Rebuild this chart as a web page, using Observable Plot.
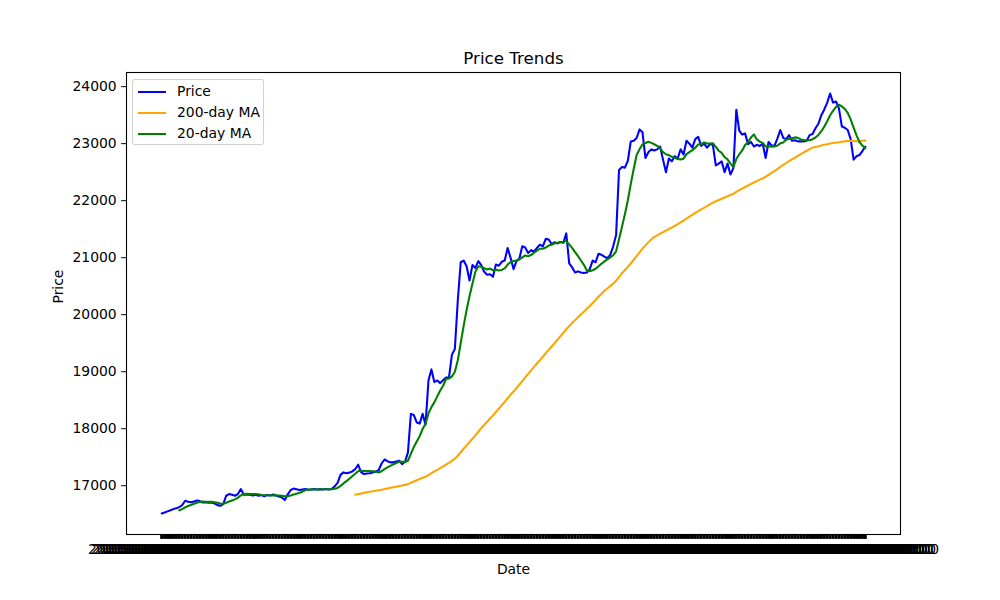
<!DOCTYPE html>
<html>
<head>
<meta charset="utf-8">
<script src="https://cdn.jsdelivr.net/npm/d3@7"></script>
<script src="https://cdn.jsdelivr.net/npm/@observablehq/plot@0.6"></script>
<style>
  body { margin: 0; background: white; font-family: "DejaVu Sans", sans-serif; }
  #wrap { position: relative; width: 1000px; height: 600px; }
  #legend { position: absolute; left: 132px; top: 79px; width: 132px; height: 66px;
    border: 1px solid rgba(204,204,204,0.9); border-radius: 3px; background: rgba(255,255,255,0.8);
    box-sizing: border-box; font-size: 13.9px; color: black; }
  .row { position: absolute; left: 0; height: 20px; }
  .sw { position: absolute; left: 5px; width: 28px; height: 2px; top: 9px; }
  .lb { position: absolute; left: 44px; top: 1px; white-space: nowrap; }
</style>
</head>
<body>
<div id="wrap"></div>
<script>
// Price, one value per sample (every 3rd trading day)
const price = [
16513,16530,16550,16570,16590,16605,16625,16660,16736,16720,
16710,16724,16740,16730,16706,16710,16700,16706,16690,16660,
16648,16678,16824,16854,16840,16824,16854,16942,16842,16842,
16842,16830,16840,16825,16835,16815,16840,16830,16845,16830,
16810,16795,16749,16850,16925,16950,16940,16924,16935,16942,
16930,16935,16942,16935,16940,16935,16942,16935,16942,16990,
17050,17190,17234,17220,17230,17251,17290,17369,17240,17205,
17216,17220,17234,17250,17270,17390,17460,17430,17410,17410,
17425,17440,17380,17420,17586,18261,18240,18110,18090,18261,
18070,18847,19040,18820,18847,18800,18850,18900,18900,19300,
19400,20254,20920,20950,20850,20600,20870,20820,20940,20869,
20752,20700,20710,20664,20880,20860,20928,20950,21170,21000,
20800,20940,20987,21200,21180,21080,21133,21104,21170,21230,
21200,21330,21320,21240,21270,21250,21275,21260,21426,20899,
20830,20740,20760,20740,20730,20740,20800,20950,20920,21070,
21050,21020,20990,21050,21200,21400,22540,22590,22580,22700,
23038,23050,23100,23250,23200,22750,22850,22900,22880,22900,
22950,22720,22500,22740,22690,22780,22740,22900,22810,23050,
23000,22930,23080,23120,22960,23000,22930,22990,22980,22620,
22650,22690,22500,22650,22460,22570,23595,23230,23160,23180,
22990,23030,22950,22980,22960,23000,22750,23030,22970,22960,
23090,23240,23100,23080,23150,23050,23060,23040,23040,23040,
23050,23150,23170,23270,23350,23500,23600,23720,23880,23720,
23740,23620,23300,23280,23240,23080,22720,22780,22800,22870,
22950];

// Date categories (one per sample)
const startDate = new Date(Date.UTC(2021, 0, 4));
const dates = d3.utcDay.range(startDate, d3.utcDay.offset(startDate, 3 * price.length), 3).slice(0, price.length);

// Moving-average windows in samples (20 and 200 trading days / 3)
const shortWindow = 7;
const longWindow = 67;

const yTicks = [17000, 18000, 19000, 20000, 21000, 22000, 23000, 24000];

const seriesNames = ["Price", "200-day MA", "20-day MA"];
const seriesColors = ["#0000ff", "#ffa500", "#008000"];

const rows = price.map((p, i) => ({i, price: p, date: dates[i]}));
const N = rows.length;
const fmt = d3.utcFormat("%Y-%m-%d %H:%M:%S");
const [lo, hi] = d3.extent(price);
const pad = (hi - lo) * 0.05;

const chart = Plot.plot({
  width: 1000, height: 600,
  marginLeft: 126, marginRight: 100, marginTop: 72, marginBottom: 66,
  style: {fontFamily: "DejaVu Sans", fontSize: "13.9px", background: "white", color: "black"},
  x: {domain: [-0.05 * (N - 1), 1.05 * (N - 1)]},
  y: {domain: [lo - pad, hi + pad]},
  marks: [
    Plot.axisX({ticks: d3.range(N), tickFormat: i => fmt(dates[i]), tickSize: 4.9, tickPadding: 4.9,
                label: null, fontSize: 13.9, strokeWidth: 3}),
    Plot.axisY({ticks: yTicks, tickFormat: d3.format("d"), tickSize: 4.9, tickPadding: 4.9,
                label: null, fontSize: 13.9}),
    Plot.frame({stroke: "black", strokeWidth: 1.1}),
    Plot.lineY(rows, {x: "i", y: "price", stroke: seriesColors[0], strokeWidth: 2.08}),
    Plot.lineY(rows, Plot.windowY({k: longWindow, anchor: "end", reduce: "mean", strict: true},
               {x: "i", y: "price", stroke: seriesColors[1], strokeWidth: 2.08})),
    Plot.lineY(rows, Plot.windowY({k: shortWindow, anchor: "end", reduce: "mean", strict: true},
               {x: "i", y: "price", stroke: seriesColors[2], strokeWidth: 2.08})),
    Plot.text(["Price Trends"], {text: d => d, frameAnchor: "top", dy: -14, fontSize: 16.7, lineAnchor: "middle", fill: "black"}),
    Plot.text(["Date"], {text: d => d, frameAnchor: "bottom", dy: 35, fontSize: 13.9, lineAnchor: "middle", fill: "black"}),
    Plot.text(["Price"], {text: d => d, frameAnchor: "left", dx: -68, rotate: -90, fontSize: 13.9, lineAnchor: "middle", fill: "black"})
  ]
});

const wrap = document.getElementById("wrap");
wrap.appendChild(chart);

const legend = document.createElement("div");
legend.id = "legend";
seriesNames.forEach((name, k) => {
  const row = document.createElement("div");
  row.className = "row";
  row.style.top = (2 + k * 20.8) + "px";
  const sw = document.createElement("div");
  sw.className = "sw";
  sw.style.background = seriesColors[k];
  const lb = document.createElement("div");
  lb.className = "lb";
  lb.textContent = name;
  row.appendChild(sw);
  row.appendChild(lb);
  legend.appendChild(row);
});
wrap.appendChild(legend);
</script>
</body>
</html>
